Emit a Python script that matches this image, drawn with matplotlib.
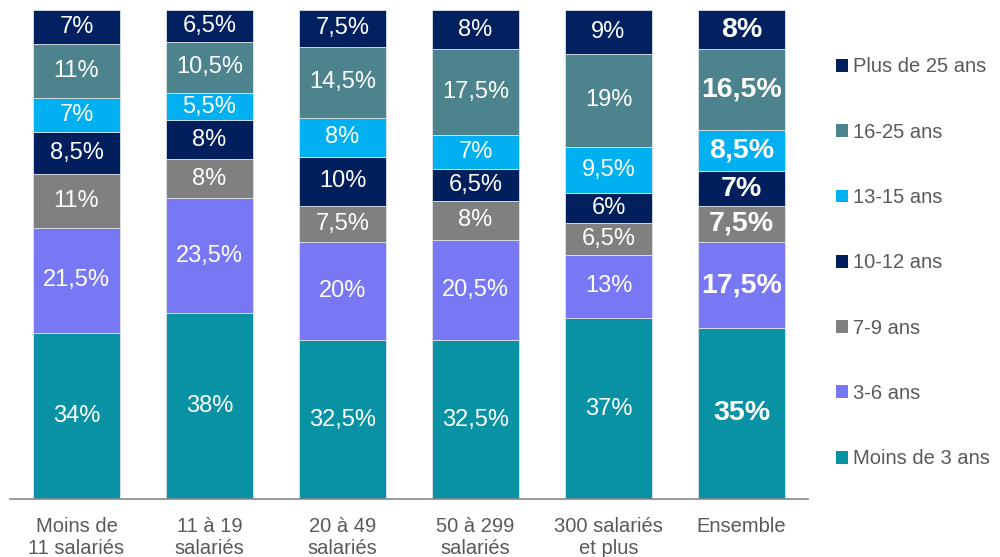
import matplotlib.pyplot as plt
import numpy as np
from matplotlib.patches import Patch

plt.rcParams['font.family'] = ['Liberation Sans', 'DejaVu Sans']

categories = ['Moins de\n11 salariés', '11 à 19\nsalariés', '20 à 49\nsalariés',
              '50 à 299\nsalariés', '300 salariés\net plus', 'Ensemble']
series = ['Moins de 3 ans', '3-6 ans', '7-9 ans', '10-12 ans',
          '13-15 ans', '16-25 ans', 'Plus de 25 ans']
moins_3 = [34, 38, 32.5, 32.5, 37, 35]
ans_3_6 = [21.5, 23.5, 20, 20.5, 13, 17.5]
ans_7_9 = [11, 8, 7.5, 8, 6.5, 7.5]
ans_10_12 = [8.5, 8, 10, 6.5, 6, 7]
ans_13_15 = [7, 5.5, 8, 7, 9.5, 8.5]
ans_16_25 = [11, 10.5, 14.5, 17.5, 19, 16.5]
plus_25 = [7, 6.5, 7.5, 8, 9, 8]
values = [moins_3, ans_3_6, ans_7_9, ans_10_12, ans_13_15, ans_16_25, plus_25]
colors = ['#0892A3', '#7878F5', '#808080', '#001F5C', '#00B0F0', '#4D838C', '#002060']

fig = plt.figure(figsize=(10, 5.57), dpi=100)
ax = fig.add_axes([0.01, 0.104, 0.798, 0.878])

x = np.arange(len(categories))
bottom = np.zeros(len(categories))
for name, vals, col in zip(series, values, colors):
    vals = np.array(vals)
    ax.bar(x, vals, 0.66, bottom=bottom, color=col, edgecolor='#DDE3E8',
           linewidth=0.6, label=name)
    for i, v in enumerate(vals):
        txt = ('%g' % v).replace('.', ',') + '%'
        bold = categories[i] == 'Ensemble'
        ax.text(x[i], bottom[i] + v / 2, txt, ha='center', va='center',
                color='white', fontsize=20.5 if bold else 17,
                fontweight='bold' if bold else 'normal')
    bottom += vals

ax.set_xlim(-0.5, 5.5)
ax.set_ylim(0, 100)
ax.set_yticks([])
ax.set_xticks(x)
ax.set_xticklabels(categories, fontsize=14.5, color='#595959', linespacing=1.2)
ax.tick_params(axis='x', length=0, pad=13)
for s in ['top', 'right', 'left']:
    ax.spines[s].set_visible(False)
ax.spines['bottom'].set_color('#888888')
ax.spines['bottom'].set_linewidth(1.2)

handles = [Patch(facecolor=c, edgecolor='none') for c in colors][::-1]
fig.legend(handles, series[::-1], loc='upper left', bbox_to_anchor=(0.836, 0.897),
           frameon=False, fontsize=14.5, labelcolor='#595959',
           handlelength=0.6, handleheight=0.6, handletextpad=0.25,
           labelspacing=2.3, borderaxespad=0, borderpad=0)

fig.savefig('out.png', dpi=100)
